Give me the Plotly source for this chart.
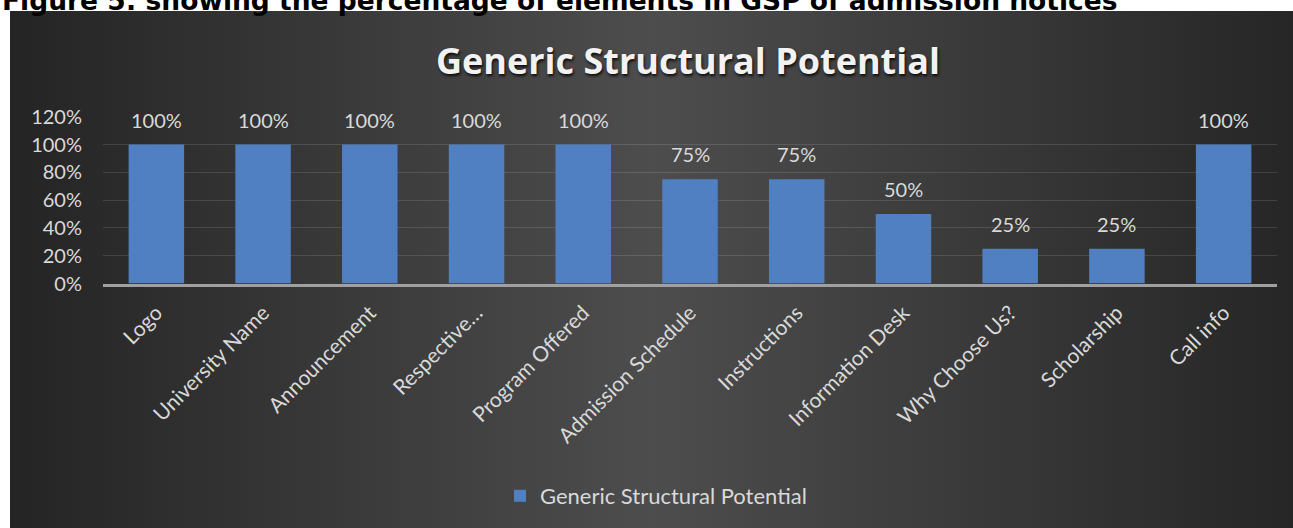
import base64
import plotly.graph_objects as go

categories = ["Logo", "University Name", "Announcement", "Respective…", "Program Offered",
              "Admission Schedule", "Instructions", "Information Desk", "Why Choose Us?",
              "Scholarship", "Call info"]
values = [1.00, 1.00, 1.00, 1.00, 1.00, 0.75, 0.75, 0.50, 0.25, 0.25, 1.00]
y_ticks = [0, 0.2, 0.4, 0.6, 0.8, 1.0, 1.2]

W, H = 1293, 528
def px(x):
    return x / W
def py(y):
    return 1 - y / H

LABEL = "#d9d9d9"
FONT = "Lato, 'Open Sans', sans-serif"

svg = '''<svg xmlns="http://www.w3.org/2000/svg" width="1283" height="517" viewBox="0 0 1283 517" preserveAspectRatio="none">
<defs><linearGradient id="g" x1="0" y1="0" x2="1" y2="0">
<stop offset="0" stop-color="#242424"/><stop offset="0.5" stop-color="#4d4d4d"/><stop offset="1" stop-color="#262626"/>
</linearGradient></defs><rect width="1283" height="517" fill="url(#g)"/></svg>'''
bg_uri = "data:image/svg+xml;base64," + base64.b64encode(svg.encode()).decode()

fig = go.Figure()
fig.add_trace(go.Bar(
    x=categories, y=values, name="Generic Structural Potential",
    marker=dict(color="#5080c2", line=dict(width=0)),
    hoverinfo="skip",
))

annotations = []
for c, v in zip(categories, values):
    annotations.append(dict(x=c, y=v, xref="x", yref="y", text=f"{round(v*100)}%",
                            showarrow=False, yshift=25, yanchor="middle",
                            font=dict(family=FONT, size=20, color=LABEL)))
annotations.append(dict(x=px(688), y=py(61), xref="paper", yref="paper",
                        text="<b>Generic Structural Potential</b>", showarrow=False,
                        xanchor="center", yanchor="middle",
                        font=dict(family="'Open Sans', sans-serif", size=36, color="#f2f2f2",
                                  shadow="1px 2px 3px rgba(0,0,0,0.85)")))
annotations.append(dict(x=0, y=py(18.4), xref="paper", yref="paper",
                        text="<b>Figure 5: showing the percentage of elements in GSP of admission notices</b>",
                        showarrow=False, xanchor="left", yanchor="bottom",
                        font=dict(family="'DejaVu Sans', Verdana, sans-serif", size=26.5, color="#000000")))

fig.update_layout(
    template="none",
    width=W, height=H,
    margin=dict(l=0, r=0, t=0, b=0, autoexpand=False),
    paper_bgcolor="white",
    plot_bgcolor="rgba(0,0,0,0)",
    bargap=0.48,
    showlegend=True,
    legend=dict(orientation="h", x=px(500), xanchor="left", y=py(496), yanchor="middle",
                font=dict(family=FONT, size=22, color=LABEL), bgcolor="rgba(0,0,0,0)"),
    images=[dict(source=bg_uri, xref="paper", yref="paper", x=px(10), y=py(11),
                 sizex=px(W) - px(10), sizey=py(11) - py(H), xanchor="left", yanchor="top",
                 sizing="stretch", layer="below")],
    annotations=annotations,
    xaxis=dict(domain=[px(103), px(1277)], tickangle=-45, showgrid=False, automargin=False,
               showline=True, linecolor="#a0a0a0", linewidth=2.5, ticks="",
               tickfont=dict(family=FONT, size=21, color=LABEL), ticklabelstandoff=6,
               fixedrange=True),
    yaxis=dict(domain=[py(283.5), py(116.7)], range=[0, 1.2], tickvals=y_ticks, automargin=False,
               tickformat=".0%", showgrid=True, gridcolor="rgba(255,255,255,0.12)",
               gridwidth=1, zeroline=False, showline=False, ticks="",
               tickfont=dict(family=FONT, size=20, color=LABEL), ticklabelstandoff=20,
               fixedrange=True),
)

fig.write_html("out.html")
